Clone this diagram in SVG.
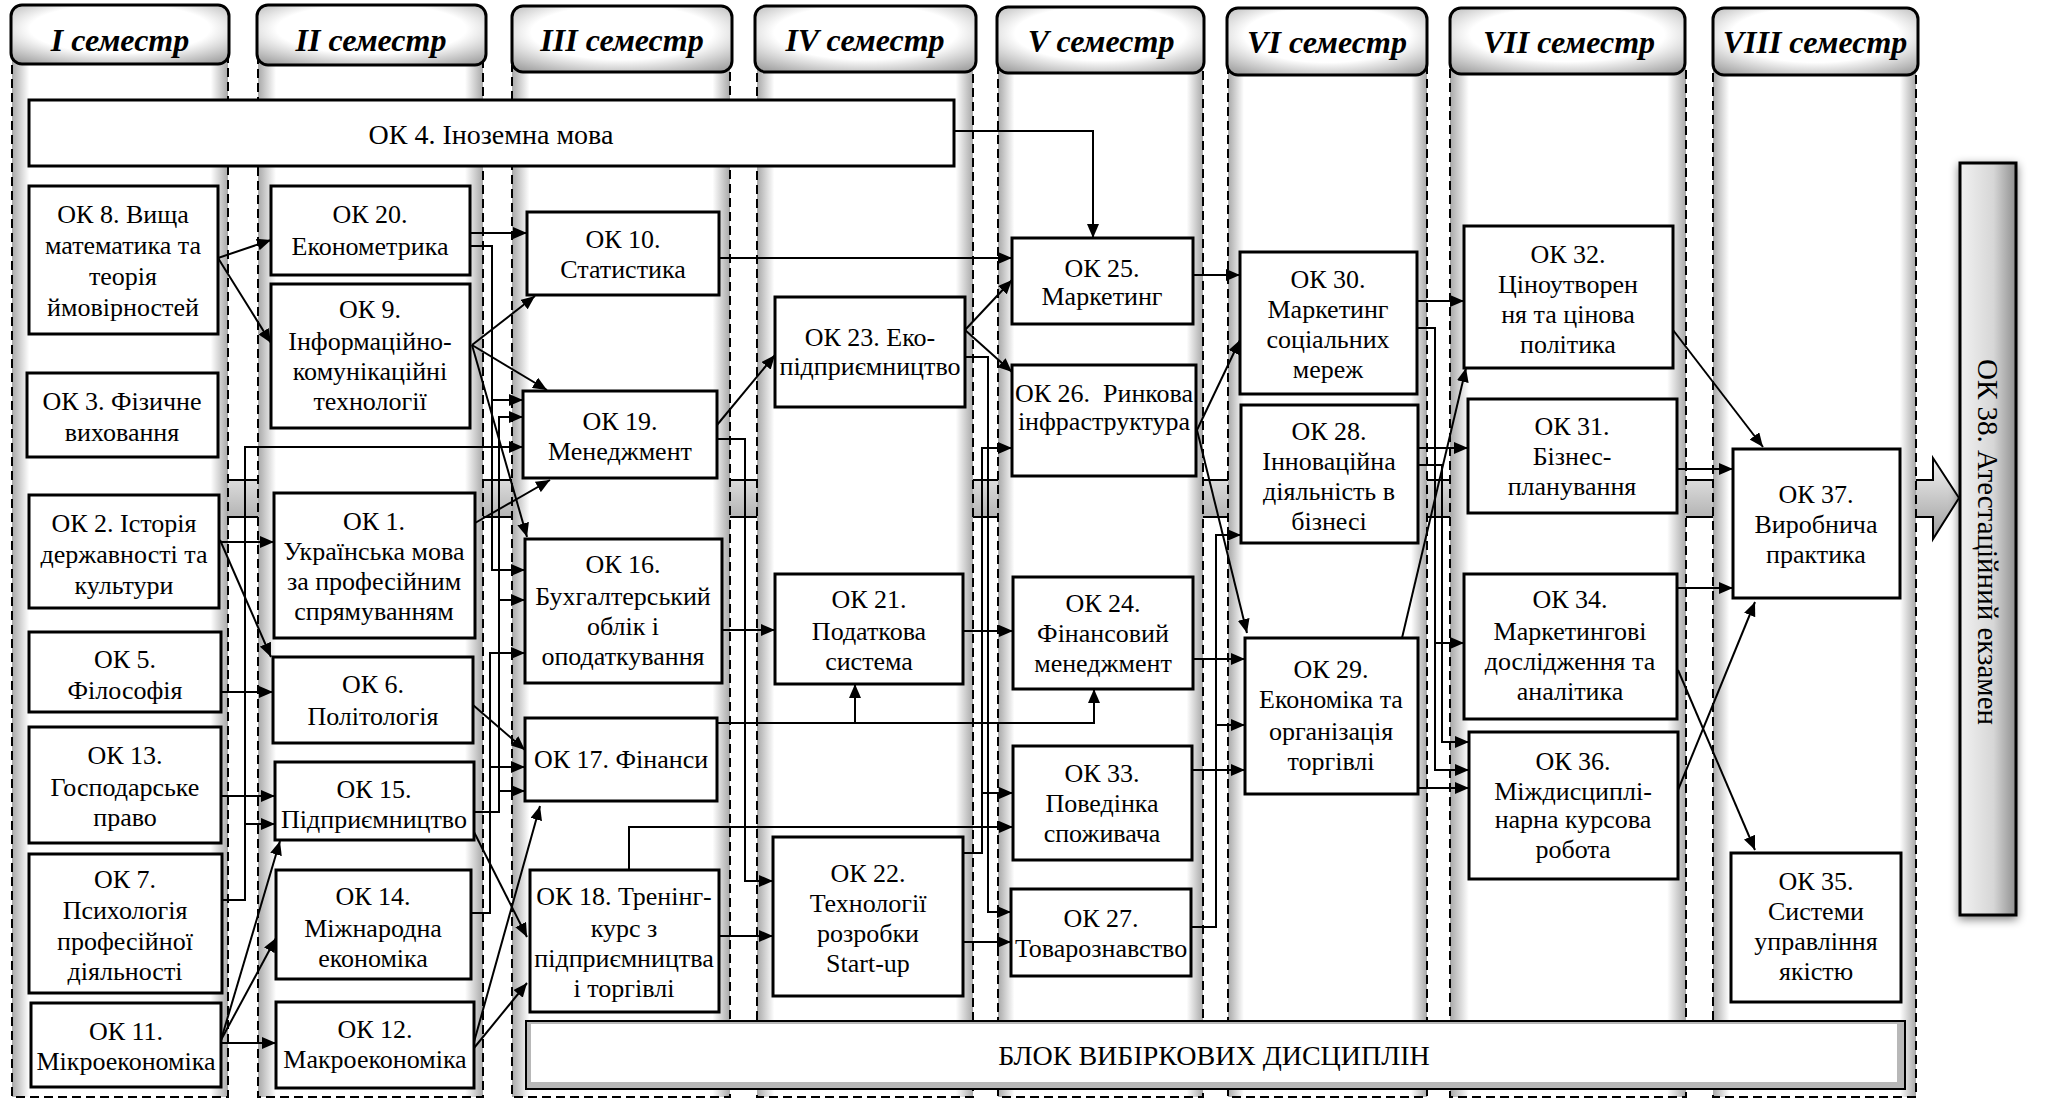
<svg xmlns="http://www.w3.org/2000/svg" width="2062" height="1099" viewBox="0 0 2062 1099">
<defs>
<linearGradient id="laneG" x1="0" y1="0" x2="1" y2="0">
<stop offset="0" stop-color="#a8a8a8"/><stop offset="0.08" stop-color="#ffffff"/><stop offset="0.92" stop-color="#ffffff"/><stop offset="1" stop-color="#a8a8a8"/>
</linearGradient>
<radialGradient id="hdrG" cx="0.5" cy="0.4" r="0.75">
<stop offset="0.55" stop-color="#ffffff"/><stop offset="1" stop-color="#9a9a9a"/>
</radialGradient>
<linearGradient id="bandG" x1="0" y1="0" x2="0" y2="1">
<stop offset="0" stop-color="#f4f4f4"/><stop offset="1" stop-color="#9c9c9c"/>
</linearGradient>
<linearGradient id="ok38G" x1="0" y1="0" x2="1" y2="0">
<stop offset="0" stop-color="#f2f2f2"/><stop offset="0.6" stop-color="#d6d6d6"/><stop offset="1" stop-color="#8f8f8f"/>
</linearGradient>
<filter id="sh" x="-30%" y="-10%" width="160%" height="120%">
<feGaussianBlur in="SourceAlpha" stdDeviation="5"/><feOffset dx="0" dy="3"/>
<feComponentTransfer><feFuncA type="linear" slope="0.5"/></feComponentTransfer>
<feMerge><feMergeNode/><feMergeNode in="SourceGraphic"/></feMerge>
</filter>
<marker id="ar" markerUnits="userSpaceOnUse" markerWidth="14" markerHeight="12" refX="14" refY="6" orient="auto">
<path d="M0,0 L14,6 L0,12 z" fill="#000"/>
</marker>
<style>
.lane{fill:url(#laneG);stroke:#000;stroke-width:2;stroke-dasharray:9 5}
.hdr{fill:url(#hdrG);stroke:#000;stroke-width:3}
.ht{font-family:'Liberation Serif','Times New Roman',serif;font-size:32px;font-weight:bold;font-style:italic;text-anchor:middle;fill:#000}
.nd{fill:#fff;stroke:#000;stroke-width:3}
.t{font-family:'Liberation Serif','Times New Roman',serif;font-size:26px;text-anchor:middle;fill:#000}
.c path{fill:none;stroke:#000;stroke-width:2}
.c path.a{marker-end:url(#ar)}
</style>
</defs>
<rect width="2062" height="1099" fill="#fff"/>

<g id="band">
<path d="M40,480 H1933 V458 L1959,498 L1933,539 V517 H40 Z" fill="url(#bandG)" stroke="#000" stroke-width="2"/>
</g>

<g id="lanes">
<rect class="lane" x="12" y="60" width="216" height="1037"/>
<rect class="lane" x="258" y="60" width="225" height="1037"/>
<rect class="lane" x="512" y="66" width="218" height="1031"/>
<rect class="lane" x="757" y="66" width="216" height="1031"/>
<rect class="lane" x="998" y="66" width="205" height="1031"/>
<rect class="lane" x="1228" y="68" width="199" height="1029"/>
<rect class="lane" x="1450" y="68" width="236" height="1029"/>
<rect class="lane" x="1713" y="68" width="203" height="1029"/>
</g>
<g id="headers">
<g id="h1"><rect class="hdr" x="11" y="5" width="218" height="59" rx="11"/><text class="ht" x="120" y="51">I семестр</text></g>
<g id="h2"><rect class="hdr" x="257" y="5" width="229" height="60" rx="11"/><text class="ht" x="371" y="51">II семестр</text></g>
<g id="h3"><rect class="hdr" x="512" y="6" width="220" height="66" rx="11"/><text class="ht" x="622" y="51">III семестр</text></g>
<g id="h4"><rect class="hdr" x="755" y="6" width="221" height="66" rx="11"/><text class="ht" x="865" y="51">IV семестр</text></g>
<g id="h5"><rect class="hdr" x="997" y="7" width="207" height="66" rx="11"/><text class="ht" x="1101" y="52">V семестр</text></g>
<g id="h6"><rect class="hdr" x="1227" y="8" width="200" height="67" rx="11"/><text class="ht" x="1327" y="53">VI семестр</text></g>
<g id="h7"><rect class="hdr" x="1450" y="8" width="235" height="66" rx="11"/><text class="ht" x="1569" y="53">VII семестр</text></g>
<g id="h8"><rect class="hdr" x="1713" y="8" width="205" height="67" rx="11"/><text class="ht" x="1815" y="53">VIII семестр</text></g>
</g>

<g id="ok4"><rect class="nd" x="29" y="100" width="925" height="66"/><text class="t" x="491" y="144" style="font-size:28px">ОК 4. Іноземна мова</text></g>
<g id="elective">
<rect x="526" y="1021" width="1379" height="68" fill="#b8b8b8" stroke="#000" stroke-width="2"/>
<rect x="531" y="1024" width="1366" height="58" fill="#fff"/>
<text class="t" x="1214" y="1065" style="font-size:28px">БЛОК ВИБІРКОВИХ ДИСЦИПЛІН</text>
</g>
<g id="ok38">
<rect x="1960" y="163" width="56" height="752" fill="url(#ok38G)" stroke="#000" stroke-width="3" filter="url(#sh)"/>
<text class="t" transform="translate(1988,542) rotate(90)" x="0" y="10" style="font-size:29px">ОК 38. Атестаційний екзамен</text>
</g>

<g id="connectors" class="c">
<path class="a" d="M954,131 H1093 V238"/>
<path class="a" d="M218,258 L271,240"/>
<path class="a" d="M218,258 L271,343"/>
<path class="a" d="M470,233 H527"/>
<path class="a" d="M470,246 H492 V570 H525"/>
<path class="a" d="M492,400 H523"/>
<path class="a" d="M472,345 L535,296"/>
<path class="a" d="M472,345 L547,390"/>
<path class="a" d="M472,345 L527,537"/>
<path class="a" d="M475,523 L550,480"/>
<path class="a" d="M220,542 H274"/>
<path class="a" d="M220,540 L271,657"/>
<path class="a" d="M221,692 H273"/>
<path class="a" d="M221,796 H275"/>
<path class="a" d="M222,900 H245 V447 H523"/>
<path class="a" d="M245,824 H275"/>
<path class="a" d="M221,1040 L280,841"/>
<path class="a" d="M221,1040 L276,938"/>
<path class="a" d="M221,1043 H276"/>
<path class="a" d="M474,812 H499 V417 H523"/>
<path class="a" d="M499,600 H525"/>
<path class="a" d="M499,791 H525"/>
<path class="a" d="M471,913 H490 V653 H525"/>
<path class="a" d="M490,767 H525"/>
<path class="a" d="M473,705 L525,750"/>
<path class="a" d="M474,832 L527,937"/>
<path class="a" d="M474,1048 L527,983"/>
<path class="a" d="M474,1042 L540,806"/>
<path class="a" d="M717,425 L775,355"/>
<path class="a" d="M717,439 H745 V881 H773"/>
<path class="a" d="M722,630 H775"/>
<path class="a" d="M717,723 H1094 V689"/>
<path class="a" d="M855,723 V684"/>
<path class="a" d="M719,936 H773"/>
<path class="a" d="M629,870 V827 H1013"/>
<path class="a" d="M719,258 H1012"/>
<path class="a" d="M965,330 L1012,280"/>
<path class="a" d="M965,330 L1012,372"/>
<path class="a" d="M965,357 H988 V912 H1011"/>
<path class="a" d="M963,853 H982 V448 H1012"/>
<path class="a" d="M982,793 H1013"/>
<path class="a" d="M963,631 H1013"/>
<path class="a" d="M963,942 H1011"/>
<path class="a" d="M1193,275 H1240"/>
<path class="a" d="M1197,430 L1240,340"/>
<path class="a" d="M1197,430 L1247,633"/>
<path class="a" d="M1193,659 H1245"/>
<path class="a" d="M1192,770 H1245"/>
<path class="a" d="M1191,927 H1216 V535 H1241"/>
<path class="a" d="M1216,725 H1245"/>
<path class="a" d="M1417,301 H1464"/>
<path class="a" d="M1417,328 H1435 V770 H1469"/>
<path class="a" d="M1435,643 H1464"/>
<path class="a" d="M1418,448 H1468"/>
<path class="a" d="M1418,465 H1442 V742 H1469"/>
<path class="a" d="M1402,638 L1466,368"/>
<path class="a" d="M1418,788 H1469"/>
<path class="a" d="M1673,330 L1763,447"/>
<path class="a" d="M1677,469 H1733"/>
<path class="a" d="M1677,588 H1733"/>
<path class="a" d="M1678,790 L1755,602"/>
<path class="a" d="M1678,670 L1755,850"/>
</g>

<g id="ok8"><rect class="nd" x="29" y="186" width="189" height="148"/><text class="t"><tspan x="123" y="223">ОК 8. Вища</tspan><tspan x="123" y="254">математика та</tspan><tspan x="123" y="285">теорія</tspan><tspan x="123" y="316">ймовірностей</tspan></text></g>
<g id="ok3"><rect class="nd" x="27" y="373" width="191" height="84"/><text class="t"><tspan x="122" y="410">ОК 3. Фізичне</tspan><tspan x="122" y="441">виховання</tspan></text></g>
<g id="ok2"><rect class="nd" x="29" y="495" width="190" height="113"/><text class="t"><tspan x="124" y="532">ОК 2. Історія</tspan><tspan x="124" y="563">державності та</tspan><tspan x="124" y="594">культури</tspan></text></g>
<g id="ok5"><rect class="nd" x="29" y="632" width="192" height="80"/><text class="t"><tspan x="125" y="668">ОК 5.</tspan><tspan x="125" y="699">Філософія</tspan></text></g>
<g id="ok13"><rect class="nd" x="29" y="727" width="192" height="116"/><text class="t"><tspan x="125" y="764">ОК 13.</tspan><tspan x="125" y="796">Господарське</tspan><tspan x="125" y="826">право</tspan></text></g>
<g id="ok7"><rect class="nd" x="29" y="854" width="193" height="139"/><text class="t"><tspan x="125" y="888">ОК 7.</tspan><tspan x="125" y="919">Психологія</tspan><tspan x="125" y="950">професійної</tspan><tspan x="125" y="980">діяльності</tspan></text></g>
<g id="ok11"><rect class="nd" x="31" y="1003" width="190" height="84"/><text class="t"><tspan x="126" y="1040">ОК 11.</tspan><tspan x="126" y="1070">Мікроекономіка</tspan></text></g>

<g id="ok20"><rect class="nd" x="271" y="186" width="199" height="89"/><text class="t"><tspan x="370" y="223">ОК 20.</tspan><tspan x="370" y="255">Економетрика</tspan></text></g>
<g id="ok9"><rect class="nd" x="271" y="284" width="199" height="144"/><text class="t"><tspan x="370" y="318">ОК 9.</tspan><tspan x="370" y="350">Інформаційно-</tspan><tspan x="370" y="380">комунікаційні</tspan><tspan x="370" y="410">технології</tspan></text></g>
<g id="ok1"><rect class="nd" x="274" y="493" width="201" height="145"/><text class="t"><tspan x="374" y="530">ОК 1.</tspan><tspan x="374" y="560">Українська мова</tspan><tspan x="374" y="590">за професійним</tspan><tspan x="374" y="620">спрямуванням</tspan></text></g>
<g id="ok6"><rect class="nd" x="273" y="657" width="200" height="86"/><text class="t"><tspan x="373" y="693">ОК 6.</tspan><tspan x="373" y="725">Політологія</tspan></text></g>
<g id="ok15"><rect class="nd" x="275" y="762" width="199" height="78"/><text class="t"><tspan x="374" y="798">ОК 15.</tspan><tspan x="374" y="828">Підприємництво</tspan></text></g>
<g id="ok14"><rect class="nd" x="276" y="870" width="195" height="109"/><text class="t"><tspan x="373" y="905">ОК 14.</tspan><tspan x="373" y="937">Міжнародна</tspan><tspan x="373" y="967">економіка</tspan></text></g>
<g id="ok12"><rect class="nd" x="276" y="1002" width="198" height="86"/><text class="t"><tspan x="375" y="1038">ОК 12.</tspan><tspan x="375" y="1068">Макроекономіка</tspan></text></g>

<g id="ok10"><rect class="nd" x="527" y="212" width="192" height="83"/><text class="t"><tspan x="623" y="248">ОК 10.</tspan><tspan x="623" y="278">Статистика</tspan></text></g>
<g id="ok19"><rect class="nd" x="523" y="391" width="194" height="87"/><text class="t"><tspan x="620" y="430">ОК 19.</tspan><tspan x="620" y="460">Менеджмент</tspan></text></g>
<g id="ok16"><rect class="nd" x="525" y="539" width="197" height="144"/><text class="t"><tspan x="623" y="573">ОК 16.</tspan><tspan x="623" y="605">Бухгалтерський</tspan><tspan x="623" y="635">облік і</tspan><tspan x="623" y="665">оподаткування</tspan></text></g>
<g id="ok17"><rect class="nd" x="525" y="718" width="192" height="83"/><text class="t"><tspan x="621" y="768">ОК 17. Фінанси</tspan></text></g>
<g id="ok18"><rect class="nd" x="530" y="870" width="189" height="142"/><text class="t"><tspan x="624" y="905">ОК 18. Тренінг-</tspan><tspan x="624" y="937">курс з</tspan><tspan x="624" y="967">підприємництва</tspan><tspan x="624" y="997">і торгівлі</tspan></text></g>

<g id="ok23"><rect class="nd" x="775" y="297" width="190" height="110"/><text class="t"><tspan x="870" y="346">ОК 23. Еко-</tspan><tspan x="870" y="375">підприємництво</tspan></text></g>
<g id="ok21"><rect class="nd" x="775" y="574" width="188" height="110"/><text class="t"><tspan x="869" y="608">ОК 21.</tspan><tspan x="869" y="640">Податкова</tspan><tspan x="869" y="670">система</tspan></text></g>
<g id="ok22"><rect class="nd" x="773" y="837" width="190" height="159"/><text class="t"><tspan x="868" y="882">ОК 22.</tspan><tspan x="868" y="912">Технології</tspan><tspan x="868" y="942">розробки</tspan><tspan x="868" y="972">Start-up</tspan></text></g>

<g id="ok25"><rect class="nd" x="1012" y="238" width="181" height="86"/><text class="t"><tspan x="1102" y="277">ОК 25.</tspan><tspan x="1102" y="305">Маркетинг</tspan></text></g>
<g id="ok26"><rect class="nd" x="1012" y="365" width="184" height="111"/><text class="t"><tspan x="1104" y="402">ОК 26.&#160; Ринкова</tspan><tspan x="1104" y="430">інфраструктура</tspan></text></g>
<g id="ok24"><rect class="nd" x="1013" y="577" width="180" height="112"/><text class="t"><tspan x="1103" y="612">ОК 24.</tspan><tspan x="1103" y="642">Фінансовий</tspan><tspan x="1103" y="672">менеджмент</tspan></text></g>
<g id="ok33"><rect class="nd" x="1013" y="746" width="179" height="114"/><text class="t"><tspan x="1102" y="782">ОК 33.</tspan><tspan x="1102" y="812">Поведінка</tspan><tspan x="1102" y="842">споживача</tspan></text></g>
<g id="ok27"><rect class="nd" x="1011" y="889" width="180" height="87"/><text class="t"><tspan x="1101" y="927">ОК 27.</tspan><tspan x="1101" y="957">Товарознавство</tspan></text></g>

<g id="ok30"><rect class="nd" x="1240" y="252" width="177" height="142"/><text class="t"><tspan x="1328" y="288">ОК 30.</tspan><tspan x="1328" y="318">Маркетинг</tspan><tspan x="1328" y="348">соціальних</tspan><tspan x="1328" y="378">мереж</tspan></text></g>
<g id="ok28"><rect class="nd" x="1241" y="405" width="177" height="138"/><text class="t"><tspan x="1329" y="440">ОК 28.</tspan><tspan x="1329" y="470">Інноваційна</tspan><tspan x="1329" y="500">діяльність в</tspan><tspan x="1329" y="530">бізнесі</tspan></text></g>
<g id="ok29"><rect class="nd" x="1245" y="638" width="173" height="156"/><text class="t"><tspan x="1331" y="678">ОК 29.</tspan><tspan x="1331" y="708">Економіка та</tspan><tspan x="1331" y="740">організація</tspan><tspan x="1331" y="770">торгівлі</tspan></text></g>

<g id="ok32"><rect class="nd" x="1464" y="226" width="209" height="142"/><text class="t"><tspan x="1568" y="263">ОК 32.</tspan><tspan x="1568" y="293">Ціноутворен</tspan><tspan x="1568" y="323">ня та цінова</tspan><tspan x="1568" y="353">політика</tspan></text></g>
<g id="ok31"><rect class="nd" x="1468" y="399" width="209" height="114"/><text class="t"><tspan x="1572" y="435">ОК 31.</tspan><tspan x="1572" y="465">Бізнес-</tspan><tspan x="1572" y="495">планування</tspan></text></g>
<g id="ok34"><rect class="nd" x="1464" y="574" width="213" height="145"/><text class="t"><tspan x="1570" y="608">ОК 34.</tspan><tspan x="1570" y="640">Маркетингові</tspan><tspan x="1570" y="670">дослідження та</tspan><tspan x="1570" y="700">аналітика</tspan></text></g>
<g id="ok36"><rect class="nd" x="1469" y="732" width="209" height="147"/><text class="t"><tspan x="1573" y="770">ОК 36.</tspan><tspan x="1573" y="800">Міждисциплі-</tspan><tspan x="1573" y="828">нарна курсова</tspan><tspan x="1573" y="858">робота</tspan></text></g>

<g id="ok37"><rect class="nd" x="1733" y="449" width="167" height="149"/><text class="t"><tspan x="1816" y="503">ОК 37.</tspan><tspan x="1816" y="533">Виробнича</tspan><tspan x="1816" y="563">практика</tspan></text></g>
<g id="ok35"><rect class="nd" x="1731" y="853" width="170" height="149"/><text class="t"><tspan x="1816" y="890">ОК 35.</tspan><tspan x="1816" y="920">Системи</tspan><tspan x="1816" y="950">управління</tspan><tspan x="1816" y="980">якістю</tspan></text></g>
</svg>
